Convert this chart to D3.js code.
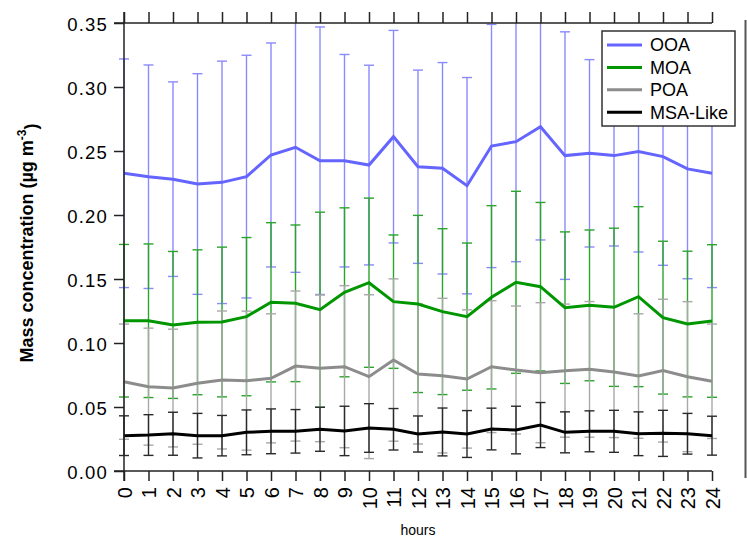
<!DOCTYPE html>
<html>
<head>
<meta charset="utf-8">
<script src="https://cdn.jsdelivr.net/npm/d3@7"></script>
<style>
  body { margin: 0; background: #fff; }
  text { font-family: Arial, "Liberation Sans", sans-serif; }
</style>
</head>
<body>
<div id="chart"></div>
<script>
// ====================================================================
// data
var hours = [0,1,2,3,4,5,6,7,8,9,10,11,12,13,14,15,16,17,18,19,20,21,22,23,24];
var y_ticks = [0.00,0.05,0.10,0.15,0.20,0.25,0.30,0.35];

var ooa_mean = [0.2326,0.2299,0.2280,0.2242,0.2255,0.2300,0.2469,0.2529,0.2424,0.2424,0.2390,0.2612,0.2377,
                0.2365,0.2229,0.2539,0.2573,0.2690,0.2464,0.2482,0.2464,0.2495,0.2456,0.2360,0.2326];
var ooa_sd   = [0.0893,0.0873,0.0760,0.0862,0.0947,0.0948,0.0875,0.0977,0.1045,0.0830,0.0780,0.0830,0.0755,
                0.0826,0.0845,0.0950,0.0938,0.0885,0.0967,0.0732,0.0706,0.0784,0.0849,0.0858,0.0893];

var moa_mean = [0.1174,0.1174,0.1141,0.1162,0.1164,0.1206,0.1318,0.1310,0.1260,0.1396,0.1471,0.1323,0.1305,
                0.1245,0.1206,0.1357,0.1474,0.1440,0.1276,0.1294,0.1279,0.1362,0.1198,0.1148,0.1172];
var moa_sd   = [0.0596,0.0600,0.0574,0.0566,0.0585,0.0618,0.0622,0.0612,0.0762,0.0660,0.0661,0.0521,0.0692,
                0.0648,0.0575,0.0716,0.0711,0.0658,0.0592,0.0589,0.0618,0.0703,0.0597,0.0569,0.0596];

var poa_mean = [0.0698,0.0659,0.0648,0.0685,0.0711,0.0706,0.0724,0.0820,0.0802,0.0815,0.0737,0.0867,0.0758,
                0.0745,0.0719,0.0815,0.0789,0.0768,0.0784,0.0794,0.0773,0.0742,0.0784,0.0737,0.0701];
var poa_sd   = [0.0450,0.0457,0.0460,0.0476,0.0539,0.0543,0.0504,0.0586,0.0573,0.0633,0.0640,0.0634,0.0547,
                0.0604,0.0540,0.0515,0.0500,0.0547,0.0520,0.0530,0.0512,0.0486,0.0558,0.0586,0.0447];

var msa_mean = [0.0276,0.0281,0.0291,0.0276,0.0276,0.0302,0.0310,0.0310,0.0326,0.0313,0.0336,0.0326,0.0289,
                0.0305,0.0289,0.0328,0.0320,0.0359,0.0302,0.0310,0.0310,0.0291,0.0294,0.0291,0.0276];
var msa_sd   = [0.0155,0.0159,0.0168,0.0174,0.0158,0.0175,0.0175,0.0170,0.0172,0.0193,0.0190,0.0162,0.0141,
                0.0187,0.0183,0.0163,0.0186,0.0176,0.0160,0.0160,0.0164,0.0171,0.0180,0.0159,0.0152];

var series_names = ["OOA", "MOA", "POA", "MSA-Like"];
// ====================================================================

var width = 747, height = 538;
var margin = {top: 23, right: 35, bottom: 67, left: 124};

var series = [
  {name: series_names[0], mean: ooa_mean, sd: ooa_sd, line: "#6464ff", bar: "#8a8aff"},
  {name: series_names[1], mean: moa_mean, sd: moa_sd, line: "#009600", bar: "#2aa52a"},
  {name: series_names[2], mean: poa_mean, sd: poa_sd, line: "#8c8c8c", bar: "#a8a8a8"},
  {name: series_names[3], mean: msa_mean, sd: msa_sd, line: "#000000", bar: "#2a2a2a"}
];

var svg = d3.select("#chart").append("svg")
  .attr("width", width)
  .attr("height", height);

var x = d3.scaleLinear().domain([0, 24]).range([margin.left, width - margin.right]);
var y = d3.scaleLinear().domain([0, 0.35]).range([height - margin.bottom, margin.top]);

svg.append("clipPath").attr("id", "plot_clip")
  .append("rect")
  .attr("x", x(0) - 10).attr("y", y(0.35))
  .attr("width", x(24) - x(0) + 20).attr("height", y(0) - y(0.35));

// ====================================================================
// error bars (mean +/- sd), drawn under the lines
var bar_group = svg.append("g").attr("clip-path", "url(#plot_clip)");
var cap = 5;

series.forEach(function(s) {
  var g = bar_group.append("g").style("stroke", s.bar).style("stroke-width", 1.4);
  hours.forEach(function(h, i) {
    var top = y(s.mean[i] + s.sd[i]);
    var bot = y(s.mean[i] - s.sd[i]);
    g.append("line").attr("x1", x(h)).attr("x2", x(h)).attr("y1", top).attr("y2", bot);
    g.append("line").attr("x1", x(h) - cap).attr("x2", x(h) + cap).attr("y1", top).attr("y2", top);
    g.append("line").attr("x1", x(h) - cap).attr("x2", x(h) + cap).attr("y1", bot).attr("y2", bot);
  });
});

// mean lines
var line = d3.line()
  .x(function(d) { return x(d[0]); })
  .y(function(d) { return y(d[1]); });

series.forEach(function(s) {
  svg.append("path")
    .datum(hours.map(function(h, i) { return [h, s.mean[i]]; }))
    .attr("d", line)
    .style("fill", "none")
    .style("stroke", s.line)
    .style("stroke-width", 3)
    .style("stroke-linejoin", "miter");
});

// ====================================================================
// axes
var axis_color = "#222";

var x_axis = svg.append("g")
  .attr("transform", "translate(0," + y(0) + ")")
  .call(d3.axisBottom(x).tickValues(hours).tickSize(10).tickFormat(d3.format("d")));
x_axis.selectAll("text")
  .attr("transform", "rotate(-90)")
  .attr("x", -16).attr("y", 0).attr("dy", "0.35em")
  .style("text-anchor", "end")
  .style("font-size", "20px");

var x_axis_top = svg.append("g")
  .attr("transform", "translate(0," + y(0.35) + ")")
  .call(d3.axisTop(x).tickValues(hours).tickSize(11).tickFormat(""));

var y_axis = svg.append("g")
  .attr("transform", "translate(" + x(0) + ",0)")
  .call(d3.axisLeft(y).tickValues(y_ticks).tickSize(10).tickFormat(d3.format(".2f")));
y_axis.selectAll("text")
  .attr("x", -16)
  .attr("dy", "0.4em")
  .style("font-size", "18.5px")
  .style("letter-spacing", "1.2px");

// stretch the axis lines to the outer tick ends as in the picture
x_axis.select(".domain").attr("d", "M" + (x(0) - 10) + ",0H" + x(24));
x_axis_top.select(".domain").attr("d", "M" + (x(0) - 10) + ",0H" + x(24));
y_axis.select(".domain").attr("d", "M0," + (y(0.35) - 11) + "V" + (y(0) + 10));

[x_axis, x_axis_top, y_axis].forEach(function(a) {
  a.attr("font-family", null).attr("font-size", null);
  a.selectAll("line, path").style("stroke", axis_color).style("stroke-width", 1.5);
  a.selectAll("text").style("fill", "#000");
});

// stray frame on the right edge
svg.append("line")
  .attr("x1", 745.5).attr("x2", 745.5)
  .attr("y1", 20).attr("y2", 478)
  .style("stroke", "#555").style("stroke-width", 2);

// ====================================================================
// titles
svg.append("text")
  .attr("x", (x(0) + x(24)) / 2)
  .attr("y", 535)
  .style("text-anchor", "middle")
  .style("font-size", "14px")
  .text("hours");

var y_title = svg.append("text")
  .attr("transform", "translate(33," + ((y(0) + y(0.35)) / 2 - 4) + ") rotate(-90)")
  .style("text-anchor", "middle")
  .style("font-size", "18px")
  .style("font-weight", "bold");
y_title.append("tspan").text("Mass concentration (\u00b5g m");
y_title.append("tspan").attr("dy", "-0.6em").style("font-size", "12px").text("-3");
y_title.append("tspan").attr("dy", "0.6em").text(")");

// ====================================================================
// legend
var legend = svg.append("g").attr("transform", "translate(602,31)");
legend.append("rect")
  .attr("width", 133).attr("height", 95)
  .style("fill", "#fff")
  .style("stroke", "#333")
  .style("stroke-width", 1.5);

series.forEach(function(s, i) {
  var row = legend.append("g").attr("transform", "translate(0," + (14 + i * 22.4) + ")");
  row.append("line")
    .attr("x1", 5).attr("x2", 40).attr("y1", 0).attr("y2", 0)
    .style("stroke", s.line).style("stroke-width", 3);
  row.append("text")
    .attr("x", 48).attr("dy", "0.36em")
    .style("font-size", "18px")
    .text(s.name);
});
</script>
</body>
</html>
